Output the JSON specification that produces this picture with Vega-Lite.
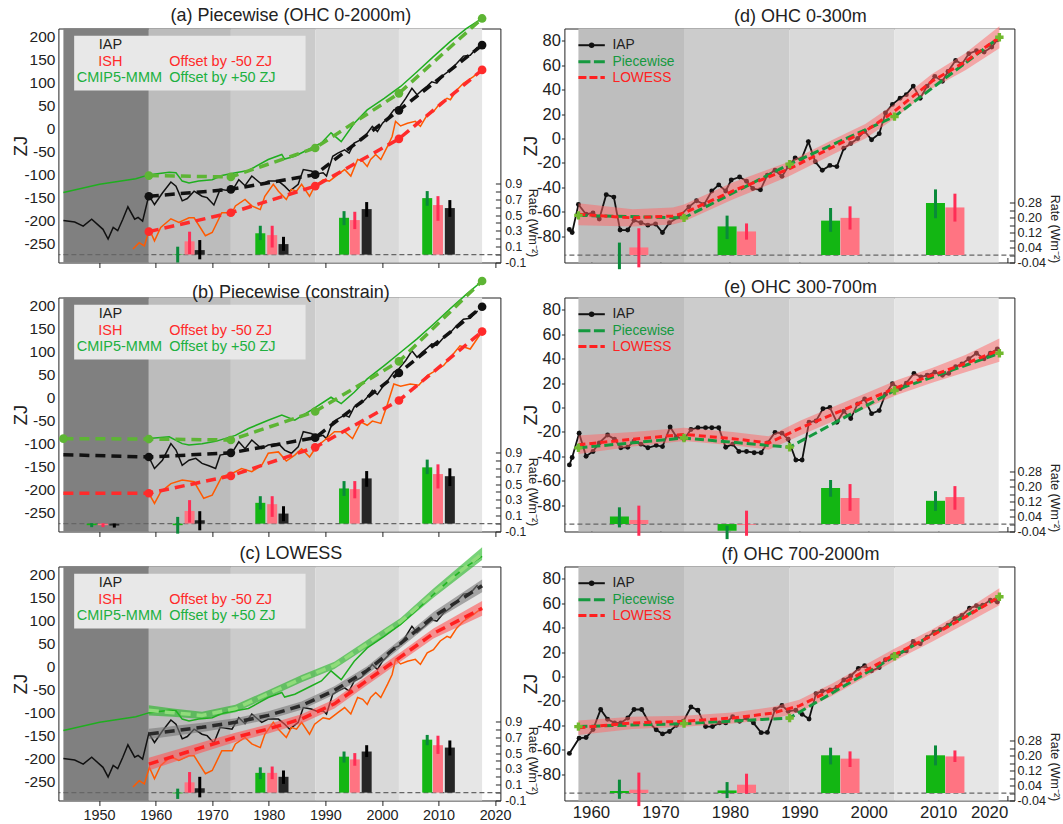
{
"$schema": "https://vega.github.io/schema/vega-lite/v6.json",
"padding": {"left": 10.4, "top": 6.5, "right": 0, "bottom": 0},
"autosize": {"type": "pad"},
"config": {
 "font": "Liberation Sans",
 "view": {"stroke": "#222", "strokeWidth": 1},
 "axis": {"grid": false, "domain": false, "labelColor": "#222", "titleColor": "#222", "tickColor": "#222", "titleFontWeight": "normal", "labelFont": "Liberation Sans", "titleFont": "Liberation Sans"},
 "title": {"fontSize": 18, "fontWeight": "normal", "color": "#222", "font": "Liberation Sans", "frame": "group"}
},
"datasets": {
 "bands": [
  {"p":"L","x1":1943.7,"x2":1958.8,"k":"k0"},{"p":"L","x1":1958.8,"x2":1973.3,"k":"k1"},{"p":"L","x1":1973.3,"x2":1988.2,"k":"k2"},{"p":"L","x1":1988.2,"x2":2003.0,"k":"k3"},{"p":"L","x1":2003.0,"x2":2017.7,"k":"k4"},
  {"p":"R","x1":1958.2,"x2":1973.4,"k":"k1"},{"p":"R","x1":1973.4,"x2":1988.6,"k":"k2"},{"p":"R","x1":1988.6,"x2":2003.7,"k":"k3"},{"p":"R","x1":2003.7,"x2":2018.7,"k":"k4"}
 ],
 "thin": [
  {"p":"a","s":"IAP","t":1943.7,"v":-200},{"p":"a","s":"IAP","t":1945.7,"v":-203},{"p":"a","s":"IAP","t":1947.2,"v":-212},{"p":"a","s":"IAP","t":1948.7,"v":-197},{"p":"a","s":"IAP","t":1950.7,"v":-219},{"p":"a","s":"IAP","t":1951.6,"v":-240},{"p":"a","s":"IAP","t":1952.5,"v":-215},{"p":"a","s":"IAP","t":1953.3,"v":-222},{"p":"a","s":"IAP","t":1954.2,"v":-197},{"p":"a","s":"IAP","t":1955.1,"v":-170},{"p":"a","s":"IAP","t":1956.3,"v":-197},{"p":"a","s":"IAP","t":1956.9,"v":-193},{"p":"a","s":"IAP","t":1957.7,"v":-201},{"p":"a","s":"IAP","t":1958.8,"v":-145},{"p":"a","s":"IAP","t":1959.8,"v":-165},{"p":"a","s":"IAP","t":1961.2,"v":-140},{"p":"a","s":"IAP","t":1962.7,"v":-116},{"p":"a","s":"IAP","t":1963.6,"v":-125},{"p":"a","s":"IAP","t":1964.7,"v":-157},{"p":"a","s":"IAP","t":1965.6,"v":-152},{"p":"a","s":"IAP","t":1966.8,"v":-136},{"p":"a","s":"IAP","t":1968.2,"v":-147},{"p":"a","s":"IAP","t":1969.1,"v":-150},{"p":"a","s":"IAP","t":1970.3,"v":-166},{"p":"a","s":"IAP","t":1971.4,"v":-132},{"p":"a","s":"IAP","t":1973.5,"v":-136},{"p":"a","s":"IAP","t":1974.7,"v":-111},{"p":"a","s":"IAP","t":1975.8,"v":-124},{"p":"a","s":"IAP","t":1977.0,"v":-103},{"p":"a","s":"IAP","t":1978.75,"v":-121},{"p":"a","s":"IAP","t":1979.9,"v":-114},{"p":"a","s":"IAP","t":1981.7,"v":-114},{"p":"a","s":"IAP","t":1982.8,"v":-125},{"p":"a","s":"IAP","t":1983.7,"v":-136},{"p":"a","s":"IAP","t":1985.2,"v":-121},{"p":"a","s":"IAP","t":1986.1,"v":-89},{"p":"a","s":"IAP","t":1987.5,"v":-92},{"p":"a","s":"IAP","t":1988.7,"v":-98},{"p":"a","s":"IAP","t":1989.6,"v":-96},{"p":"a","s":"IAP","t":1990.2,"v":-103},{"p":"a","s":"IAP","t":1991.3,"v":-60},{"p":"a","s":"IAP","t":1992.2,"v":-53},{"p":"a","s":"IAP","t":1993.4,"v":-46},{"p":"a","s":"IAP","t":1994.2,"v":-53},{"p":"a","s":"IAP","t":1995.1,"v":-31},{"p":"a","s":"IAP","t":1996.3,"v":-24},{"p":"a","s":"IAP","t":1997.2,"v":-13},{"p":"a","s":"IAP","t":1998.3,"v":5},{"p":"a","s":"IAP","t":1999.2,"v":-6},{"p":"a","s":"IAP","t":2000.1,"v":12},{"p":"a","s":"IAP","t":2001.0,"v":23},{"p":"a","s":"IAP","t":2002.1,"v":41},{"p":"a","s":"IAP","t":2003.0,"v":45},{"p":"a","s":"IAP","t":2004.2,"v":66},{"p":"a","s":"IAP","t":2005.3,"v":88},{"p":"a","s":"IAP","t":2006.2,"v":74},{"p":"a","s":"IAP","t":2007.1,"v":84},{"p":"a","s":"IAP","t":2008.0,"v":93},{"p":"a","s":"IAP","t":2008.8,"v":102},{"p":"a","s":"IAP","t":2009.7,"v":99},{"p":"a","s":"IAP","t":2010.9,"v":117},{"p":"a","s":"IAP","t":2012.1,"v":128},{"p":"a","s":"IAP","t":2013.2,"v":142},{"p":"a","s":"IAP","t":2014.4,"v":158},{"p":"a","s":"IAP","t":2015.6,"v":160},{"p":"a","s":"IAP","t":2016.9,"v":178},
  {"p":"a","s":"ISH","t":1956.0,"v":-262},{"p":"a","s":"ISH","t":1957.1,"v":-248},{"p":"a","s":"ISH","t":1958.0,"v":-255},{"p":"a","s":"ISH","t":1958.9,"v":-219},{"p":"a","s":"ISH","t":1959.8,"v":-244},{"p":"a","s":"ISH","t":1960.9,"v":-215},{"p":"a","s":"ISH","t":1962.7,"v":-196},{"p":"a","s":"ISH","t":1964.1,"v":-204},{"p":"a","s":"ISH","t":1965.9,"v":-194},{"p":"a","s":"ISH","t":1966.8,"v":-194},{"p":"a","s":"ISH","t":1968.8,"v":-233},{"p":"a","s":"ISH","t":1970.0,"v":-226},{"p":"a","s":"ISH","t":1971.7,"v":-183},{"p":"a","s":"ISH","t":1973.5,"v":-183},{"p":"a","s":"ISH","t":1974.1,"v":-168},{"p":"a","s":"ISH","t":1975.8,"v":-154},{"p":"a","s":"ISH","t":1977.0,"v":-168},{"p":"a","s":"ISH","t":1978.5,"v":-176},{"p":"a","s":"ISH","t":1979.3,"v":-147},{"p":"a","s":"ISH","t":1980.8,"v":-121},{"p":"a","s":"ISH","t":1981.7,"v":-136},{"p":"a","s":"ISH","t":1983.1,"v":-154},{"p":"a","s":"ISH","t":1984.0,"v":-132},{"p":"a","s":"ISH","t":1984.9,"v":-136},{"p":"a","s":"ISH","t":1985.8,"v":-121},{"p":"a","s":"ISH","t":1987.2,"v":-147},{"p":"a","s":"ISH","t":1988.1,"v":-125},{"p":"a","s":"ISH","t":1989.6,"v":-111},{"p":"a","s":"ISH","t":1990.7,"v":-114},{"p":"a","s":"ISH","t":1992.2,"v":-100},{"p":"a","s":"ISH","t":1993.4,"v":-89},{"p":"a","s":"ISH","t":1994.5,"v":-103},{"p":"a","s":"ISH","t":1995.7,"v":-67},{"p":"a","s":"ISH","t":1996.6,"v":-71},{"p":"a","s":"ISH","t":1997.4,"v":-82},{"p":"a","s":"ISH","t":1998.0,"v":-67},{"p":"a","s":"ISH","t":1998.9,"v":-56},{"p":"a","s":"ISH","t":1999.8,"v":-67},{"p":"a","s":"ISH","t":2001.0,"v":-38},{"p":"a","s":"ISH","t":2001.8,"v":-17},{"p":"a","s":"ISH","t":2002.4,"v":16},{"p":"a","s":"ISH","t":2003.3,"v":6},{"p":"a","s":"ISH","t":2004.5,"v":12},{"p":"a","s":"ISH","t":2005.9,"v":16},{"p":"a","s":"ISH","t":2006.8,"v":5},{"p":"a","s":"ISH","t":2008.0,"v":30},{"p":"a","s":"ISH","t":2009.1,"v":37},{"p":"a","s":"ISH","t":2010.3,"v":56},{"p":"a","s":"ISH","t":2011.5,"v":66},{"p":"a","s":"ISH","t":2012.1,"v":63},{"p":"a","s":"ISH","t":2013.2,"v":84},{"p":"a","s":"ISH","t":2014.4,"v":99},{"p":"a","s":"ISH","t":2016.1,"v":113},{"p":"a","s":"ISH","t":2017.7,"v":128},
  {"p":"a","s":"CMIP5","t":1943.7,"v":-139},{"p":"a","s":"CMIP5","t":1950.1,"v":-121},{"p":"a","s":"CMIP5","t":1956.5,"v":-109},{"p":"a","s":"CMIP5","t":1958.9,"v":-100},{"p":"a","s":"CMIP5","t":1962.4,"v":-95},{"p":"a","s":"CMIP5","t":1963.6,"v":-96},{"p":"a","s":"CMIP5","t":1964.7,"v":-114},{"p":"a","s":"CMIP5","t":1965.9,"v":-118},{"p":"a","s":"CMIP5","t":1967.6,"v":-114},{"p":"a","s":"CMIP5","t":1970.0,"v":-111},{"p":"a","s":"CMIP5","t":1971.7,"v":-102},{"p":"a","s":"CMIP5","t":1974.1,"v":-96},{"p":"a","s":"CMIP5","t":1976.4,"v":-91},{"p":"a","s":"CMIP5","t":1979.9,"v":-67},{"p":"a","s":"CMIP5","t":1982.3,"v":-56},{"p":"a","s":"CMIP5","t":1982.8,"v":-66},{"p":"a","s":"CMIP5","t":1984.6,"v":-60},{"p":"a","s":"CMIP5","t":1987.5,"v":-42},{"p":"a","s":"CMIP5","t":1989.3,"v":-31},{"p":"a","s":"CMIP5","t":1991.0,"v":-9},{"p":"a","s":"CMIP5","t":1992.8,"v":-28},{"p":"a","s":"CMIP5","t":1995.1,"v":12},{"p":"a","s":"CMIP5","t":1997.4,"v":41},{"p":"a","s":"CMIP5","t":2000.4,"v":66},{"p":"a","s":"CMIP5","t":2003.3,"v":92},{"p":"a","s":"CMIP5","t":2006.2,"v":124},{"p":"a","s":"CMIP5","t":2009.1,"v":157},{"p":"a","s":"CMIP5","t":2012.0,"v":189},{"p":"a","s":"CMIP5","t":2014.9,"v":218},{"p":"a","s":"CMIP5","t":2017.7,"v":240},
  {"p":"b","s":"IAP","t":1958.8,"v":-129},{"p":"b","s":"IAP","t":1959.8,"v":-154},{"p":"b","s":"IAP","t":1961.2,"v":-136},{"p":"b","s":"IAP","t":1962.7,"v":-100},{"p":"b","s":"IAP","t":1963.6,"v":-114},{"p":"b","s":"IAP","t":1964.7,"v":-147},{"p":"b","s":"IAP","t":1965.9,"v":-136},{"p":"b","s":"IAP","t":1967.1,"v":-132},{"p":"b","s":"IAP","t":1968.2,"v":-143},{"p":"b","s":"IAP","t":1969.4,"v":-148},{"p":"b","s":"IAP","t":1970.6,"v":-154},{"p":"b","s":"IAP","t":1971.4,"v":-125},{"p":"b","s":"IAP","t":1973.5,"v":-120},{"p":"b","s":"IAP","t":1974.7,"v":-96},{"p":"b","s":"IAP","t":1975.8,"v":-111},{"p":"b","s":"IAP","t":1977.0,"v":-92},{"p":"b","s":"IAP","t":1978.75,"v":-111},{"p":"b","s":"IAP","t":1979.9,"v":-103},{"p":"b","s":"IAP","t":1981.7,"v":-100},{"p":"b","s":"IAP","t":1982.8,"v":-114},{"p":"b","s":"IAP","t":1984.0,"v":-121},{"p":"b","s":"IAP","t":1985.2,"v":-107},{"p":"b","s":"IAP","t":1986.1,"v":-74},{"p":"b","s":"IAP","t":1987.5,"v":-78},{"p":"b","s":"IAP","t":1988.7,"v":-85},{"p":"b","s":"IAP","t":1989.6,"v":-82},{"p":"b","s":"IAP","t":1990.2,"v":-89},{"p":"b","s":"IAP","t":1991.3,"v":-53},{"p":"b","s":"IAP","t":1992.2,"v":-46},{"p":"b","s":"IAP","t":1993.4,"v":-38},{"p":"b","s":"IAP","t":1994.2,"v":-42},{"p":"b","s":"IAP","t":1995.1,"v":-20},{"p":"b","s":"IAP","t":1996.3,"v":-13},{"p":"b","s":"IAP","t":1997.2,"v":-2},{"p":"b","s":"IAP","t":1998.3,"v":16},{"p":"b","s":"IAP","t":1999.2,"v":7},{"p":"b","s":"IAP","t":2000.1,"v":23},{"p":"b","s":"IAP","t":2001.0,"v":37},{"p":"b","s":"IAP","t":2002.1,"v":56},{"p":"b","s":"IAP","t":2003.0,"v":63},{"p":"b","s":"IAP","t":2004.2,"v":81},{"p":"b","s":"IAP","t":2005.3,"v":102},{"p":"b","s":"IAP","t":2006.2,"v":88},{"p":"b","s":"IAP","t":2007.1,"v":99},{"p":"b","s":"IAP","t":2008.0,"v":108},{"p":"b","s":"IAP","t":2008.8,"v":117},{"p":"b","s":"IAP","t":2009.7,"v":114},{"p":"b","s":"IAP","t":2010.9,"v":131},{"p":"b","s":"IAP","t":2012.1,"v":142},{"p":"b","s":"IAP","t":2013.2,"v":157},{"p":"b","s":"IAP","t":2014.4,"v":171},{"p":"b","s":"IAP","t":2015.6,"v":173},{"p":"b","s":"IAP","t":2016.9,"v":189},
  {"p":"b","s":"ISH","t":1958.8,"v":-208},{"p":"b","s":"ISH","t":1959.8,"v":-230},{"p":"b","s":"ISH","t":1960.9,"v":-205},{"p":"b","s":"ISH","t":1962.7,"v":-187},{"p":"b","s":"ISH","t":1964.7,"v":-179},{"p":"b","s":"ISH","t":1966.8,"v":-183},{"p":"b","s":"ISH","t":1968.5,"v":-219},{"p":"b","s":"ISH","t":1970.0,"v":-212},{"p":"b","s":"ISH","t":1971.7,"v":-172},{"p":"b","s":"ISH","t":1973.5,"v":-165},{"p":"b","s":"ISH","t":1975.2,"v":-154},{"p":"b","s":"ISH","t":1977.0,"v":-161},{"p":"b","s":"ISH","t":1978.75,"v":-147},{"p":"b","s":"ISH","t":1979.9,"v":-121},{"p":"b","s":"ISH","t":1981.7,"v":-118},{"p":"b","s":"ISH","t":1983.1,"v":-138},{"p":"b","s":"ISH","t":1984.6,"v":-125},{"p":"b","s":"ISH","t":1985.8,"v":-111},{"p":"b","s":"ISH","t":1987.2,"v":-129},{"p":"b","s":"ISH","t":1988.4,"v":-107},{"p":"b","s":"ISH","t":1989.9,"v":-92},{"p":"b","s":"ISH","t":1991.6,"v":-74},{"p":"b","s":"ISH","t":1993.4,"v":-74},{"p":"b","s":"ISH","t":1994.8,"v":-89},{"p":"b","s":"ISH","t":1996.3,"v":-53},{"p":"b","s":"ISH","t":1997.4,"v":-60},{"p":"b","s":"ISH","t":1998.3,"v":-51},{"p":"b","s":"ISH","t":1999.8,"v":-56},{"p":"b","s":"ISH","t":2000.9,"v":-17},{"p":"b","s":"ISH","t":2002.1,"v":30},{"p":"b","s":"ISH","t":2003.3,"v":25},{"p":"b","s":"ISH","t":2005.0,"v":30},{"p":"b","s":"ISH","t":2006.5,"v":27},{"p":"b","s":"ISH","t":2008.0,"v":48},{"p":"b","s":"ISH","t":2009.1,"v":56},{"p":"b","s":"ISH","t":2010.9,"v":70},{"p":"b","s":"ISH","t":2012.6,"v":95},{"p":"b","s":"ISH","t":2013.8,"v":113},{"p":"b","s":"ISH","t":2015.6,"v":106},{"p":"b","s":"ISH","t":2017.7,"v":144},
  {"p":"b","s":"CMIP5","t":1958.8,"v":-89},{"p":"b","s":"CMIP5","t":1962.4,"v":-85},{"p":"b","s":"CMIP5","t":1964.7,"v":-100},{"p":"b","s":"CMIP5","t":1965.9,"v":-103},{"p":"b","s":"CMIP5","t":1968.2,"v":-100},{"p":"b","s":"CMIP5","t":1970.6,"v":-95},{"p":"b","s":"CMIP5","t":1974.1,"v":-82},{"p":"b","s":"CMIP5","t":1976.4,"v":-67},{"p":"b","s":"CMIP5","t":1979.9,"v":-49},{"p":"b","s":"CMIP5","t":1982.3,"v":-38},{"p":"b","s":"CMIP5","t":1984.6,"v":-49},{"p":"b","s":"CMIP5","t":1987.5,"v":-27},{"p":"b","s":"CMIP5","t":1991.0,"v":1},{"p":"b","s":"CMIP5","t":1992.8,"v":-13},{"p":"b","s":"CMIP5","t":1995.1,"v":12},{"p":"b","s":"CMIP5","t":1997.4,"v":41},{"p":"b","s":"CMIP5","t":2000.4,"v":70},{"p":"b","s":"CMIP5","t":2003.3,"v":99},{"p":"b","s":"CMIP5","t":2006.2,"v":128},{"p":"b","s":"CMIP5","t":2009.1,"v":160},{"p":"b","s":"CMIP5","t":2012.0,"v":193},{"p":"b","s":"CMIP5","t":2014.9,"v":225},{"p":"b","s":"CMIP5","t":2017.7,"v":254}
 ],
 "pw": [
  {"p":"a","s":"CMIP5","t":1958.8,"v":-102},{"p":"a","s":"CMIP5","t":1973.3,"v":-105},{"p":"a","s":"CMIP5","t":1988.2,"v":-42},{"p":"a","s":"CMIP5","t":2003.0,"v":77},{"p":"a","s":"CMIP5","t":2017.7,"v":240},
  {"p":"a","s":"IAP","t":1958.8,"v":-147},{"p":"a","s":"IAP","t":1973.3,"v":-132},{"p":"a","s":"IAP","t":1988.2,"v":-100},{"p":"a","s":"IAP","t":2003.0,"v":40},{"p":"a","s":"IAP","t":2017.7,"v":182},
  {"p":"a","s":"ISH","t":1958.8,"v":-224},{"p":"a","s":"ISH","t":1973.3,"v":-183},{"p":"a","s":"ISH","t":1988.2,"v":-125},{"p":"a","s":"ISH","t":2003.0,"v":-22},{"p":"a","s":"ISH","t":2017.7,"v":128},
  {"p":"b","s":"CMIP5","t":1943.7,"v":-89},{"p":"b","s":"CMIP5","t":1958.8,"v":-90},{"p":"b","s":"CMIP5","t":1973.3,"v":-92},{"p":"b","s":"CMIP5","t":1988.2,"v":-30},{"p":"b","s":"CMIP5","t":2003.0,"v":79},{"p":"b","s":"CMIP5","t":2017.7,"v":254},
  {"p":"b","s":"IAP","t":1943.7,"v":-124},{"p":"b","s":"IAP","t":1958.8,"v":-129},{"p":"b","s":"IAP","t":1973.3,"v":-120},{"p":"b","s":"IAP","t":1988.2,"v":-87},{"p":"b","s":"IAP","t":2003.0,"v":54},{"p":"b","s":"IAP","t":2017.7,"v":198},
  {"p":"b","s":"ISH","t":1943.7,"v":-208},{"p":"b","s":"ISH","t":1958.8,"v":-208},{"p":"b","s":"ISH","t":1973.3,"v":-170},{"p":"b","s":"ISH","t":1988.2,"v":-108},{"p":"b","s":"ISH","t":2003.0,"v":-6},{"p":"b","s":"ISH","t":2017.7,"v":144},
  {"p":"d","s":"PW","t":1958.2,"v":-63},{"p":"d","s":"PW","t":1973.4,"v":-65},{"p":"d","s":"PW","t":1988.6,"v":-21},{"p":"d","s":"PW","t":2003.7,"v":18},{"p":"d","s":"PW","t":2018.8,"v":83},
  {"p":"e","s":"PW","t":1958.2,"v":-33},{"p":"e","s":"PW","t":1973.4,"v":-25},{"p":"e","s":"PW","t":1988.6,"v":-32.5},{"p":"e","s":"PW","t":2003.7,"v":14},{"p":"e","s":"PW","t":2018.8,"v":44.5},
  {"p":"f","s":"PW","t":1958.2,"v":-41},{"p":"f","s":"PW","t":1973.4,"v":-38.6},{"p":"f","s":"PW","t":1988.6,"v":-34},{"p":"f","s":"PW","t":2003.7,"v":16.6},{"p":"f","s":"PW","t":2018.8,"v":65.4}
 ],
 "lw": [
  {"p":"c","s":"CMIP5","t":1958.8,"v":-95,"lo":-106,"hi":-84},{"p":"c","s":"CMIP5","t":1963.0,"v":-100,"lo":-109,"hi":-91},{"p":"c","s":"CMIP5","t":1968.2,"v":-106,"lo":-114,"hi":-98},{"p":"c","s":"CMIP5","t":1974.1,"v":-91,"lo":-99,"hi":-83},{"p":"c","s":"CMIP5","t":1979.9,"v":-59,"lo":-67,"hi":-51},{"p":"c","s":"CMIP5","t":1985.8,"v":-26,"lo":-34,"hi":-18},{"p":"c","s":"CMIP5","t":1991.6,"v":3,"lo":-5,"hi":11},{"p":"c","s":"CMIP5","t":1997.4,"v":50,"lo":42,"hi":58},{"p":"c","s":"CMIP5","t":2003.3,"v":98,"lo":90,"hi":106},{"p":"c","s":"CMIP5","t":2009.1,"v":160,"lo":150,"hi":170},{"p":"c","s":"CMIP5","t":2017.7,"v":246,"lo":232,"hi":260},
  {"p":"c","s":"IAP","t":1958.8,"v":-146.5,"lo":-158,"hi":-135},{"p":"c","s":"IAP","t":1968.2,"v":-132,"lo":-142,"hi":-122},{"p":"c","s":"IAP","t":1974.1,"v":-121,"lo":-130,"hi":-112},{"p":"c","s":"IAP","t":1979.9,"v":-106,"lo":-115,"hi":-97},{"p":"c","s":"IAP","t":1985.8,"v":-84.5,"lo":-93.5,"hi":-75.5},{"p":"c","s":"IAP","t":1991.6,"v":-51.6,"lo":-60.6,"hi":-42.6},{"p":"c","s":"IAP","t":1997.4,"v":-8,"lo":-17,"hi":1},{"p":"c","s":"IAP","t":2003.3,"v":50.5,"lo":41.5,"hi":59.5},{"p":"c","s":"IAP","t":2009.1,"v":109,"lo":99,"hi":119},{"p":"c","s":"IAP","t":2017.7,"v":176,"lo":162,"hi":190},
  {"p":"c","s":"ISH","t":1958.8,"v":-212,"lo":-226,"hi":-198},{"p":"c","s":"ISH","t":1968.2,"v":-175.6,"lo":-186.6,"hi":-164.6},{"p":"c","s":"ISH","t":1974.1,"v":-153.8,"lo":-163.8,"hi":-143.8},{"p":"c","s":"ISH","t":1979.9,"v":-135.5,"lo":-145.5,"hi":-125.5},{"p":"c","s":"ISH","t":1985.8,"v":-113.6,"lo":-123.6,"hi":-103.6},{"p":"c","s":"ISH","t":1991.6,"v":-80.8,"lo":-90.8,"hi":-70.8},{"p":"c","s":"ISH","t":1997.4,"v":-29.8,"lo":-39.8,"hi":-19.8},{"p":"c","s":"ISH","t":2003.3,"v":21.3,"lo":11.3,"hi":31.3},{"p":"c","s":"ISH","t":2009.1,"v":72.4,"lo":61.4,"hi":83.4},{"p":"c","s":"ISH","t":2017.7,"v":127,"lo":111,"hi":143},
  {"p":"d","s":"LW","t":1958.2,"v":-62,"lo":-71,"hi":-53},{"p":"d","s":"LW","t":1966.0,"v":-65,"lo":-72,"hi":-58},{"p":"d","s":"LW","t":1971.8,"v":-63.5,"lo":-70.5,"hi":-56.5},{"p":"d","s":"LW","t":1973.4,"v":-61,"lo":-68,"hi":-54},{"p":"d","s":"LW","t":1980.4,"v":-43,"lo":-50,"hi":-36},{"p":"d","s":"LW","t":1988.5,"v":-25,"lo":-31,"hi":-19},{"p":"d","s":"LW","t":1994.8,"v":-7,"lo":-13,"hi":-1},{"p":"d","s":"LW","t":1999.5,"v":6,"lo":0,"hi":12},{"p":"d","s":"LW","t":2003.6,"v":22,"lo":16,"hi":28},{"p":"d","s":"LW","t":2009.1,"v":47,"lo":41,"hi":53},{"p":"d","s":"LW","t":2013.9,"v":63,"lo":56,"hi":70},{"p":"d","s":"LW","t":2018.8,"v":83,"lo":74,"hi":92},
  {"p":"e","s":"LW","t":1958.2,"v":-30.5,"lo":-38,"hi":-23},{"p":"e","s":"LW","t":1966.0,"v":-26,"lo":-32,"hi":-20},{"p":"e","s":"LW","t":1973.4,"v":-22,"lo":-27.5,"hi":-16.5},{"p":"e","s":"LW","t":1980.4,"v":-25.5,"lo":-31,"hi":-20},{"p":"e","s":"LW","t":1985.6,"v":-29,"lo":-34.5,"hi":-23.5},{"p":"e","s":"LW","t":1990.2,"v":-16.7,"lo":-22.7,"hi":-10.7},{"p":"e","s":"LW","t":1994.8,"v":-5.5,"lo":-11.5,"hi":0.5},{"p":"e","s":"LW","t":1999.5,"v":5.5,"lo":-0.5,"hi":11.5},{"p":"e","s":"LW","t":2004.2,"v":16.7,"lo":10.7,"hi":22.7},{"p":"e","s":"LW","t":2009.1,"v":26.4,"lo":20.4,"hi":32.4},{"p":"e","s":"LW","t":2013.9,"v":36,"lo":29,"hi":43},{"p":"e","s":"LW","t":2018.8,"v":47,"lo":37.5,"hi":56.5},
  {"p":"f","s":"LW","t":1958.2,"v":-42,"lo":-48,"hi":-36},{"p":"f","s":"LW","t":1966.0,"v":-38,"lo":-43,"hi":-33},{"p":"f","s":"LW","t":1973.4,"v":-36.7,"lo":-41.2,"hi":-32.2},{"p":"f","s":"LW","t":1980.4,"v":-34,"lo":-38.5,"hi":-29.5},{"p":"f","s":"LW","t":1986.1,"v":-30,"lo":-35,"hi":-25},{"p":"f","s":"LW","t":1990.0,"v":-24,"lo":-29,"hi":-19},{"p":"f","s":"LW","t":1994.8,"v":-10.5,"lo":-15.5,"hi":-5.5},{"p":"f","s":"LW","t":1999.5,"v":4.7,"lo":-0.3,"hi":9.7},{"p":"f","s":"LW","t":2003.6,"v":17.6,"lo":12.6,"hi":22.6},{"p":"f","s":"LW","t":2009.1,"v":33.6,"lo":28.6,"hi":38.6},{"p":"f","s":"LW","t":2013.9,"v":48.8,"lo":43.3,"hi":54.3},{"p":"f","s":"LW","t":2018.8,"v":65.4,"lo":58.4,"hi":72.4}
 ],
 "iap": [
  {"p":"d","t":1956.9,"v":-74.5},{"p":"d","t":1957.3,"v":-77},{"p":"d","t":1958.2,"v":-54},{"p":"d","t":1959.3,"v":-62},{"p":"d","t":1960.3,"v":-61},{"p":"d","t":1961.2,"v":-66},{"p":"d","t":1962.2,"v":-46},{"p":"d","t":1963.3,"v":-48},{"p":"d","t":1964.2,"v":-75},{"p":"d","t":1965.3,"v":-75},{"p":"d","t":1966.2,"v":-67},{"p":"d","t":1967.2,"v":-69},{"p":"d","t":1968.2,"v":-71},{"p":"d","t":1969.3,"v":-70},{"p":"d","t":1970.3,"v":-77},{"p":"d","t":1971.3,"v":-69},{"p":"d","t":1972.7,"v":-64},{"p":"d","t":1974.1,"v":-56},{"p":"d","t":1975.2,"v":-51},{"p":"d","t":1976.3,"v":-54},{"p":"d","t":1977.4,"v":-43},{"p":"d","t":1978.4,"v":-38},{"p":"d","t":1979.4,"v":-43},{"p":"d","t":1980.2,"v":-34},{"p":"d","t":1981.4,"v":-31.5},{"p":"d","t":1982.4,"v":-35},{"p":"d","t":1983.3,"v":-41},{"p":"d","t":1984.4,"v":-42},{"p":"d","t":1985.4,"v":-30},{"p":"d","t":1986.5,"v":-26},{"p":"d","t":1987.5,"v":-31},{"p":"d","t":1988.4,"v":-23},{"p":"d","t":1989.4,"v":-16},{"p":"d","t":1990.3,"v":-17},{"p":"d","t":1991.3,"v":-2.5},{"p":"d","t":1992.3,"v":-19},{"p":"d","t":1993.3,"v":-26},{"p":"d","t":1994.4,"v":-22},{"p":"d","t":1995.4,"v":-23},{"p":"d","t":1996.4,"v":-8},{"p":"d","t":1997.4,"v":-4},{"p":"d","t":1998.4,"v":0},{"p":"d","t":1999.4,"v":6},{"p":"d","t":2000.4,"v":-1},{"p":"d","t":2001.5,"v":4},{"p":"d","t":2002.4,"v":21},{"p":"d","t":2003.4,"v":28},{"p":"d","t":2004.5,"v":33},{"p":"d","t":2005.4,"v":36},{"p":"d","t":2006.4,"v":43},{"p":"d","t":2007.4,"v":33},{"p":"d","t":2008.4,"v":43},{"p":"d","t":2009.5,"v":51},{"p":"d","t":2010.6,"v":47},{"p":"d","t":2011.4,"v":55},{"p":"d","t":2012.5,"v":64},{"p":"d","t":2013.4,"v":61},{"p":"d","t":2014.4,"v":69.5},{"p":"d","t":2015.5,"v":72},{"p":"d","t":2016.6,"v":71},{"p":"d","t":2017.7,"v":75},{"p":"d","t":2018.5,"v":81},
  {"p":"e","t":1956.9,"v":-47},{"p":"e","t":1957.3,"v":-41},{"p":"e","t":1958.3,"v":-21},{"p":"e","t":1959.3,"v":-40},{"p":"e","t":1960.3,"v":-36},{"p":"e","t":1961.2,"v":-29},{"p":"e","t":1962.4,"v":-22.5},{"p":"e","t":1963.4,"v":-26},{"p":"e","t":1964.3,"v":-33},{"p":"e","t":1965.3,"v":-32.5},{"p":"e","t":1966.2,"v":-27.5},{"p":"e","t":1967.2,"v":-30},{"p":"e","t":1968.2,"v":-33},{"p":"e","t":1969.4,"v":-31},{"p":"e","t":1970.3,"v":-32},{"p":"e","t":1971.4,"v":-16},{"p":"e","t":1972.3,"v":-24},{"p":"e","t":1973.4,"v":-26},{"p":"e","t":1974.4,"v":-18},{"p":"e","t":1975.4,"v":-16.5},{"p":"e","t":1976.5,"v":-16.5},{"p":"e","t":1977.4,"v":-16.5},{"p":"e","t":1978.4,"v":-16.5},{"p":"e","t":1979.4,"v":-32.5},{"p":"e","t":1980.4,"v":-30},{"p":"e","t":1981.3,"v":-36},{"p":"e","t":1982.4,"v":-36},{"p":"e","t":1983.5,"v":-37},{"p":"e","t":1984.5,"v":-37},{"p":"e","t":1985.4,"v":-29},{"p":"e","t":1986.5,"v":-20.5},{"p":"e","t":1987.5,"v":-21},{"p":"e","t":1988.4,"v":-26},{"p":"e","t":1989.5,"v":-43},{"p":"e","t":1990.4,"v":-43},{"p":"e","t":1991.4,"v":-12},{"p":"e","t":1992.4,"v":-11},{"p":"e","t":1993.4,"v":-1},{"p":"e","t":1994.4,"v":0},{"p":"e","t":1995.4,"v":-12},{"p":"e","t":1996.4,"v":-3},{"p":"e","t":1997.4,"v":-9},{"p":"e","t":1998.4,"v":3},{"p":"e","t":1999.4,"v":7},{"p":"e","t":2000.4,"v":-5},{"p":"e","t":2001.5,"v":-2.5},{"p":"e","t":2002.4,"v":11},{"p":"e","t":2003.4,"v":19.6},{"p":"e","t":2004.5,"v":15.5},{"p":"e","t":2005.4,"v":20},{"p":"e","t":2006.5,"v":28},{"p":"e","t":2007.5,"v":25},{"p":"e","t":2008.4,"v":26.5},{"p":"e","t":2009.5,"v":29},{"p":"e","t":2010.6,"v":26.5},{"p":"e","t":2011.5,"v":28},{"p":"e","t":2012.5,"v":33.5},{"p":"e","t":2013.4,"v":35.7},{"p":"e","t":2014.4,"v":40},{"p":"e","t":2015.5,"v":44.5},{"p":"e","t":2016.6,"v":40},{"p":"e","t":2017.5,"v":44.5},{"p":"e","t":2018.5,"v":48},
  {"p":"f","t":1956.9,"v":-63},{"p":"f","t":1958.3,"v":-50.5},{"p":"f","t":1959.3,"v":-50},{"p":"f","t":1960.3,"v":-43.5},{"p":"f","t":1961.4,"v":-27},{"p":"f","t":1962.4,"v":-35},{"p":"f","t":1963.4,"v":-38},{"p":"f","t":1964.3,"v":-38},{"p":"f","t":1965.3,"v":-34},{"p":"f","t":1966.2,"v":-27},{"p":"f","t":1967.3,"v":-27},{"p":"f","t":1968.4,"v":-38},{"p":"f","t":1969.4,"v":-43.6},{"p":"f","t":1970.3,"v":-47},{"p":"f","t":1971.3,"v":-45},{"p":"f","t":1972.3,"v":-40},{"p":"f","t":1973.3,"v":-36.7},{"p":"f","t":1974.4,"v":-25},{"p":"f","t":1975.4,"v":-27.6},{"p":"f","t":1976.5,"v":-41},{"p":"f","t":1977.5,"v":-41},{"p":"f","t":1978.5,"v":-38},{"p":"f","t":1979.4,"v":-38},{"p":"f","t":1980.4,"v":-33},{"p":"f","t":1981.4,"v":-36.7},{"p":"f","t":1982.4,"v":-34},{"p":"f","t":1983.4,"v":-38},{"p":"f","t":1984.5,"v":-46},{"p":"f","t":1985.4,"v":-45.8},{"p":"f","t":1986.5,"v":-27},{"p":"f","t":1987.5,"v":-23.7},{"p":"f","t":1988.4,"v":-28.4},{"p":"f","t":1989.5,"v":-27.6},{"p":"f","t":1990.4,"v":-31},{"p":"f","t":1991.4,"v":-34.8},{"p":"f","t":1992.4,"v":-14},{"p":"f","t":1993.3,"v":-12},{"p":"f","t":1994.4,"v":-11},{"p":"f","t":1995.4,"v":-9},{"p":"f","t":1996.4,"v":-2.8},{"p":"f","t":1997.4,"v":0.5},{"p":"f","t":1998.5,"v":6.6},{"p":"f","t":1999.4,"v":8.8},{"p":"f","t":2000.4,"v":4.7},{"p":"f","t":2001.5,"v":7.4},{"p":"f","t":2002.4,"v":13.8},{"p":"f","t":2003.4,"v":17},{"p":"f","t":2004.3,"v":18.5},{"p":"f","t":2005.4,"v":21},{"p":"f","t":2006.4,"v":28.7},{"p":"f","t":2007.4,"v":26.8},{"p":"f","t":2008.4,"v":32.3},{"p":"f","t":2009.4,"v":36.4},{"p":"f","t":2010.3,"v":38.6},{"p":"f","t":2011.4,"v":42},{"p":"f","t":2012.4,"v":47.4},{"p":"f","t":2013.4,"v":50},{"p":"f","t":2014.5,"v":56},{"p":"f","t":2015.5,"v":58},{"p":"f","t":2016.4,"v":58.5},{"p":"f","t":2017.5,"v":62.6},{"p":"f","t":2018.5,"v":61}
 ],
 "bars": [
  {"p":"a","s":"CMIP5","t":1963.9,"r":-0.005,"lo":-0.1,"hi":0.1},{"p":"a","s":"ISH","t":1966.0,"r":0.168,"lo":0.006,"hi":0.29},{"p":"a","s":"IAP","t":1967.8,"r":0.057,"lo":-0.06,"hi":0.184},
  {"p":"a","s":"CMIP5","t":1978.5,"r":0.27,"lo":0.184,"hi":0.365},{"p":"a","s":"ISH","t":1980.6,"r":0.247,"lo":0.09,"hi":0.365},{"p":"a","s":"IAP","t":1982.6,"r":0.133,"lo":0.048,"hi":0.225},
  {"p":"a","s":"CMIP5","t":1993.3,"r":0.466,"lo":0.373,"hi":0.55},{"p":"a","s":"ISH","t":1995.2,"r":0.437,"lo":0.323,"hi":0.542},{"p":"a","s":"IAP","t":1997.3,"r":0.576,"lo":0.478,"hi":0.665},
  {"p":"a","s":"CMIP5","t":2008.0,"r":0.715,"lo":0.618,"hi":0.804},{"p":"a","s":"ISH","t":2009.9,"r":0.627,"lo":0.428,"hi":0.74},{"p":"a","s":"IAP","t":2012.0,"r":0.589,"lo":0.478,"hi":0.69},
  {"p":"b","s":"CMIP5","t":1948.7,"r":-0.02,"lo":-0.045,"hi":0.005},{"p":"b","s":"ISH","t":1950.7,"r":-0.02,"lo":-0.045,"hi":0.005},{"p":"b","s":"IAP","t":1952.7,"r":-0.025,"lo":-0.05,"hi":0.0},
  {"p":"b","s":"CMIP5","t":1963.9,"r":-0.02,"lo":-0.127,"hi":0.085},{"p":"b","s":"ISH","t":1966.0,"r":0.16,"lo":0.013,"hi":0.297},{"p":"b","s":"IAP","t":1967.8,"r":0.042,"lo":-0.085,"hi":0.157},
  {"p":"b","s":"CMIP5","t":1978.5,"r":0.263,"lo":0.178,"hi":0.347},{"p":"b","s":"ISH","t":1980.6,"r":0.246,"lo":0.085,"hi":0.347},{"p":"b","s":"IAP","t":1982.6,"r":0.127,"lo":0.03,"hi":0.22},
  {"p":"b","s":"CMIP5","t":1993.3,"r":0.445,"lo":0.35,"hi":0.538},{"p":"b","s":"ISH","t":1995.2,"r":0.436,"lo":0.32,"hi":0.538},{"p":"b","s":"IAP","t":1997.3,"r":0.572,"lo":0.466,"hi":0.665},
  {"p":"b","s":"CMIP5","t":2008.0,"r":0.712,"lo":0.627,"hi":0.81},{"p":"b","s":"ISH","t":2009.9,"r":0.627,"lo":0.445,"hi":0.75},{"p":"b","s":"IAP","t":2012.0,"r":0.6,"lo":0.475,"hi":0.7},
  {"p":"c","s":"CMIP5","t":1963.9,"r":-0.01,"lo":-0.08,"hi":0.05},{"p":"c","s":"ISH","t":1966.0,"r":0.13,"lo":0.0,"hi":0.26},{"p":"c","s":"IAP","t":1967.8,"r":0.055,"lo":-0.06,"hi":0.2},
  {"p":"c","s":"CMIP5","t":1978.5,"r":0.25,"lo":0.17,"hi":0.32},{"p":"c","s":"ISH","t":1980.6,"r":0.25,"lo":0.17,"hi":0.33},{"p":"c","s":"IAP","t":1982.6,"r":0.2,"lo":0.11,"hi":0.28},
  {"p":"c","s":"CMIP5","t":1993.3,"r":0.455,"lo":0.38,"hi":0.52},{"p":"c","s":"ISH","t":1995.2,"r":0.42,"lo":0.34,"hi":0.5},{"p":"c","s":"IAP","t":1997.3,"r":0.52,"lo":0.45,"hi":0.6},
  {"p":"c","s":"CMIP5","t":2008.0,"r":0.67,"lo":0.6,"hi":0.73},{"p":"c","s":"ISH","t":2009.9,"r":0.6,"lo":0.49,"hi":0.72},{"p":"c","s":"IAP","t":2012.0,"r":0.57,"lo":0.47,"hi":0.66},
  {"p":"d","s":"PW","t":1964.1,"r":0.0,"lo":-0.076,"hi":0.067},{"p":"d","s":"LW","t":1966.9,"r":0.041,"lo":-0.066,"hi":0.144},
  {"p":"d","s":"PW","t":1979.6,"r":0.154,"lo":0.086,"hi":0.212},{"p":"d","s":"LW","t":1982.4,"r":0.127,"lo":0.083,"hi":0.17},
  {"p":"d","s":"PW","t":1994.5,"r":0.185,"lo":0.125,"hi":0.253},{"p":"d","s":"LW","t":1997.3,"r":0.2,"lo":0.137,"hi":0.262},
  {"p":"d","s":"PW","t":2009.6,"r":0.28,"lo":0.198,"hi":0.353},{"p":"d","s":"LW","t":2012.4,"r":0.256,"lo":0.18,"hi":0.33},
  {"p":"e","s":"PW","t":1964.1,"r":0.041,"lo":-0.018,"hi":0.09},{"p":"e","s":"LW","t":1966.9,"r":0.022,"lo":-0.063,"hi":0.099},
  {"p":"e","s":"PW","t":1979.6,"r":-0.036,"lo":-0.081,"hi":-0.009},{"p":"e","s":"LW","t":1982.4,"r":-0.004,"lo":-0.063,"hi":0.072},
  {"p":"e","s":"PW","t":1994.5,"r":0.194,"lo":0.147,"hi":0.237},{"p":"e","s":"LW","t":1997.3,"r":0.14,"lo":0.071,"hi":0.215},
  {"p":"e","s":"PW","t":2009.6,"r":0.125,"lo":0.071,"hi":0.177},{"p":"e","s":"LW","t":2012.4,"r":0.145,"lo":0.077,"hi":0.204},
  {"p":"f","s":"PW","t":1964.1,"r":0.011,"lo":-0.031,"hi":0.072},{"p":"f","s":"LW","t":1966.9,"r":0.018,"lo":-0.07,"hi":0.11},
  {"p":"f","s":"PW","t":1979.6,"r":0.014,"lo":-0.027,"hi":0.059},{"p":"f","s":"LW","t":1982.4,"r":0.045,"lo":-0.004,"hi":0.104},
  {"p":"f","s":"PW","t":1994.5,"r":0.203,"lo":0.154,"hi":0.244},{"p":"f","s":"LW","t":1997.3,"r":0.185,"lo":0.14,"hi":0.224},
  {"p":"f","s":"PW","t":2009.6,"r":0.203,"lo":0.149,"hi":0.256},{"p":"f","s":"LW","t":2012.4,"r":0.197,"lo":0.167,"hi":0.229}
 ]
},
"columns": 2,
"spacing": {"row": 35, "column": 64},
"bounds": "flush",
"concat": [
 {
  "width": 442, "height": 234,
  "title": {"text": "(a) Piecewise (OHC 0-2000m)", "dx": 11.5, "offset": -13.9},
  "resolve": {"scale": {"y": "independent", "color": "independent"}},
  "layer": [
   {"data": {"name": "bands"}, "transform": [{"filter": "datum.p=='L'"}], "mark": "rect",
    "encoding": {"x": {"field": "x1", "type": "quantitative", "scale": {"domain": [1943.7, 2020.05], "nice": false, "zero": false}, "axis": {"values": [1950,1960,1970,1980,1990,2000,2010,2020], "format": "d", "labels": false, "tickSize": 5, "title": null}}, "x2": {"field": "x2"}, "color": {"field": "k", "type": "nominal", "scale": {"domain": ["k0","k1","k2","k3","k4"], "range": ["#808080","#bcbcbc","#cbcbcb","#d9d9d9","#e6e6e6"]}, "legend": null}}},
   {"data": {"values": [{}]}, "mark": {"type": "rect", "color": "#e8e8e8"},
    "encoding": {"x": {"datum": 1945.6, "type": "quantitative"}, "x2": {"datum": 1986.5}, "y": {"datum": 202.2, "type": "quantitative", "scale": {"domain": [-291.2, 218.1], "nice": false, "zero": false}, "axis": {"orient": "left", "values": [-250,-200,-150,-100,-50,0,50,100,150,200], "labelExpr": "replace(datum.label, '−', '-')", "tickSize": 0, "labelPadding": 3.5, "labelFontSize": 15.5, "title": "ZJ", "titleFontSize": 18.3, "titleX": -37, "titleBaseline": "middle"}}, "y2": {"datum": 83}}},
   {"data": {"name": "thin"}, "transform": [{"filter": "datum.p=='a'"}], "mark": {"type": "line", "strokeWidth": 1.5},
    "encoding": {"x": {"field": "t", "type": "quantitative"}, "y": {"field": "v", "type": "quantitative", "scale": {"domain": [-291.2, 218.1], "nice": false, "zero": false}, "axis": null}, "color": {"field": "s", "type": "nominal", "scale": {"domain": ["IAP","ISH","CMIP5"], "range": ["#111111","#ff5a00","#1fae1f"]}, "legend": null}}},
   {"data": {"name": "pw"}, "transform": [{"filter": "datum.p=='a'"}], "mark": {"type": "line", "strokeWidth": 3.5, "strokeDash": [10, 6]},
    "encoding": {"x": {"field": "t", "type": "quantitative"}, "y": {"field": "v", "type": "quantitative", "scale": {"domain": [-291.2, 218.1], "nice": false, "zero": false}, "axis": null}, "color": {"field": "s", "type": "nominal", "scale": {"domain": ["IAP","ISH","CMIP5"], "range": ["#111111","#ff2b2b","#5db534"]}, "legend": null}}},
   {"data": {"name": "pw"}, "transform": [{"filter": "datum.p=='a'"}], "mark": {"type": "point", "filled": true, "size": 75, "opacity": 1},
    "encoding": {"x": {"field": "t", "type": "quantitative"}, "y": {"field": "v", "type": "quantitative", "scale": {"domain": [-291.2, 218.1], "nice": false, "zero": false}, "axis": null}, "color": {"field": "s", "type": "nominal", "scale": {"domain": ["IAP","ISH","CMIP5"], "range": ["#111111","#ff2b2b","#5db534"]}, "legend": null}}},
   {"data": {"values": [{}]}, "mark": {"type": "text", "text": "IAP", "fontSize": 14.5, "color": "#231f20", "align": "center", "baseline": "middle"}, "encoding": {"x": {"datum": 1952.0, "type": "quantitative"}, "y": {"datum": 182, "type": "quantitative", "scale": {"domain": [-291.2, 218.1], "nice": false, "zero": false}, "axis": null}}},
   {"data": {"values": [{}]}, "mark": {"type": "text", "text": "ISH", "fontSize": 14.5, "color": "#ff2a2a", "align": "center", "baseline": "middle"}, "encoding": {"x": {"datum": 1952.0, "type": "quantitative"}, "y": {"datum": 145.8, "type": "quantitative", "scale": {"domain": [-291.2, 218.1], "nice": false, "zero": false}, "axis": null}}},
   {"data": {"values": [{}]}, "mark": {"type": "text", "text": "CMIP5-MMM", "fontSize": 14.5, "color": "#20b040", "align": "center", "baseline": "middle"}, "encoding": {"x": {"datum": 1953.6, "type": "quantitative"}, "y": {"datum": 109.7, "type": "quantitative", "scale": {"domain": [-291.2, 218.1], "nice": false, "zero": false}, "axis": null}}},
   {"data": {"values": [{}]}, "mark": {"type": "text", "text": "Offset by  -50 ZJ", "fontSize": 14.5, "color": "#ff2a2a", "align": "left", "baseline": "middle"}, "encoding": {"x": {"datum": 1962.4, "type": "quantitative"}, "y": {"datum": 145.8, "type": "quantitative", "scale": {"domain": [-291.2, 218.1], "nice": false, "zero": false}, "axis": null}}},
   {"data": {"values": [{}]}, "mark": {"type": "text", "text": "Offset by +50 ZJ", "fontSize": 14.5, "color": "#20b040", "align": "left", "baseline": "middle"}, "encoding": {"x": {"datum": 1962.4, "type": "quantitative"}, "y": {"datum": 109.7, "type": "quantitative", "scale": {"domain": [-291.2, 218.1], "nice": false, "zero": false}, "axis": null}}},
   {"data": {"values": [{}]}, "mark": {"type": "rule", "color": "#666", "strokeDash": [5, 3], "strokeWidth": 1.3},
    "encoding": {"y": {"datum": 0, "type": "quantitative", "scale": {"domain": [-0.1, 2.862], "nice": false, "zero": false}, "axis": {"orient": "right", "values": [-0.1,0,0.1,0.2,0.3,0.4,0.5,0.6,0.7,0.8,0.9], "format": ".1f", "tickSize": -5, "labelPadding": 9.4, "labelFontSize": 12.2, "labelExpr": "abs(round(datum.value*10))%2==1 ? replace(datum.label, '−', '-') : ''", "title": "Rate (Wm⁻²)", "titleFontSize": 12.5, "titleAngle": 90, "titlePadding": 0, "titleY": 194}}}},
   {"data": {"name": "bars"}, "transform": [{"filter": "datum.p=='a'"}], "mark": {"type": "bar", "size": 10},
    "encoding": {"x": {"field": "t", "type": "quantitative"}, "y": {"field": "r", "type": "quantitative", "scale": {"domain": [-0.1, 2.862], "nice": false, "zero": false}, "axis": null}, "y2": {"datum": 0}, "color": {"field": "s", "type": "nominal", "scale": {"domain": ["CMIP5","ISH","IAP","PW","LW"], "range": ["#13b613","#ff7482","#262626","#13b613","#ff7482"]}, "legend": null}}},
   {"data": {"name": "bars"}, "transform": [{"filter": "datum.p=='a'"}], "mark": {"type": "rule", "strokeWidth": 3},
    "encoding": {"x": {"field": "t", "type": "quantitative"}, "y": {"field": "lo", "type": "quantitative", "scale": {"domain": [-0.1, 2.862], "nice": false, "zero": false}, "axis": null}, "y2": {"field": "hi"}, "color": {"field": "s", "type": "nominal", "scale": {"domain": ["CMIP5","ISH","IAP","PW","LW"], "range": ["#0a8a3a","#ff2d55","#000000","#0a8a3a","#ff2d55"]}, "legend": null}}}
  ]
 },
 {
  "width": 450, "height": 234,
  "title": {"text": "(d) OHC 0-300m", "dx": 11, "offset": 0.3},
  "resolve": {"scale": {"y": "independent", "color": "independent"}},
  "layer": [
   {"data": {"name": "bands"}, "transform": [{"filter": "datum.p=='R'"}], "mark": "rect",
    "encoding": {"x": {"field": "x1", "type": "quantitative", "scale": {"domain": [1956.9, 2020.24], "nice": false, "zero": false}, "axis": {"values": [1960,1970,1980,1990,2000,2010,2020], "format": "d", "labels": false, "tickSize": -5, "title": null}}, "x2": {"field": "x2"}, "color": {"field": "k", "type": "nominal", "scale": {"domain": ["k0","k1","k2","k3","k4"], "range": ["#808080","#bebebe","#cccccc","#d9d9d9","#e6e6e6"]}, "legend": null}}},
   {"data": {"name": "iap"}, "transform": [{"filter": "datum.p=='d'"}], "mark": {"type": "line", "color": "#111", "strokeWidth": 1.8, "point": {"filled": true, "size": 24, "color": "#111"}},
    "encoding": {"x": {"field": "t", "type": "quantitative"}, "y": {"field": "v", "type": "quantitative", "scale": {"domain": [-101.6, 90.2], "nice": false, "zero": false}, "axis": {"orient": "left", "values": [-80,-60,-40,-20,0,20,40,60,80], "labelExpr": "replace(datum.label, '−', '-')", "tickSize": 3, "labelPadding": 1, "labelFontSize": 16.5, "title": "ZJ", "titleFontSize": 18.3, "titleX": -32.5, "titleBaseline": "middle"}}}},
   {"data": {"name": "lw"}, "transform": [{"filter": "datum.p=='d'"}], "mark": {"type": "area", "color": "#ff6666", "opacity": 0.5},
    "encoding": {"x": {"field": "t", "type": "quantitative"}, "y": {"field": "hi", "type": "quantitative", "scale": {"domain": [-101.6, 90.2], "nice": false, "zero": false}, "axis": null}, "y2": {"field": "lo"}}},
   {"data": {"name": "pw"}, "transform": [{"filter": "datum.p=='d'"}], "mark": {"type": "line", "color": "#15993f", "strokeWidth": 3, "strokeDash": [9, 4]},
    "encoding": {"x": {"field": "t", "type": "quantitative"}, "y": {"field": "v", "type": "quantitative", "scale": {"domain": [-101.6, 90.2], "nice": false, "zero": false}, "axis": null}}},
   {"data": {"name": "lw"}, "transform": [{"filter": "datum.p=='d'"}], "mark": {"type": "line", "color": "#ff2020", "strokeWidth": 3, "strokeDash": [7, 4]},
    "encoding": {"x": {"field": "t", "type": "quantitative"}, "y": {"field": "v", "type": "quantitative", "scale": {"domain": [-101.6, 90.2], "nice": false, "zero": false}, "axis": null}}},
   {"data": {"name": "pw"}, "transform": [{"filter": "datum.p=='d'"}], "mark": {"type": "point", "shape": "cross", "filled": true, "size": 70, "color": "#72b92e", "opacity": 1},
    "encoding": {"x": {"field": "t", "type": "quantitative"}, "y": {"field": "v", "type": "quantitative", "scale": {"domain": [-101.6, 90.2], "nice": false, "zero": false}, "axis": null}}},
   {"data": {"values": [{}]}, "mark": {"type": "rule", "color": "#111", "strokeWidth": 2}, "encoding": {"x": {"datum": 1958.2, "type": "quantitative"}, "x2": {"datum": 1962.0}, "y": {"datum": 76.5, "type": "quantitative", "scale": {"domain": [-101.6, 90.2], "nice": false, "zero": false}, "axis": null}}},
   {"data": {"values": [{}]}, "mark": {"type": "point", "filled": true, "size": 30, "color": "#111", "opacity": 1}, "encoding": {"x": {"datum": 1960.1, "type": "quantitative"}, "y": {"datum": 76.5, "type": "quantitative", "scale": {"domain": [-101.6, 90.2], "nice": false, "zero": false}, "axis": null}}},
   {"data": {"values": [{}]}, "mark": {"type": "rule", "color": "#15993f", "strokeWidth": 3, "strokeDash": [12, 3.5]}, "encoding": {"x": {"datum": 1958.2, "type": "quantitative"}, "x2": {"datum": 1962.0}, "y": {"datum": 63, "type": "quantitative", "scale": {"domain": [-101.6, 90.2], "nice": false, "zero": false}, "axis": null}}},
   {"data": {"values": [{}]}, "mark": {"type": "rule", "color": "#ff2020", "strokeWidth": 3, "strokeDash": [8, 3]}, "encoding": {"x": {"datum": 1958.2, "type": "quantitative"}, "x2": {"datum": 1962.0}, "y": {"datum": 50, "type": "quantitative", "scale": {"domain": [-101.6, 90.2], "nice": false, "zero": false}, "axis": null}}},
   {"data": {"values": [{}]}, "mark": {"type": "text", "text": "IAP", "fontSize": 13.8, "color": "#222", "align": "left", "baseline": "middle"}, "encoding": {"x": {"datum": 1963.1, "type": "quantitative"}, "y": {"datum": 76.5, "type": "quantitative", "scale": {"domain": [-101.6, 90.2], "nice": false, "zero": false}, "axis": null}}},
   {"data": {"values": [{}]}, "mark": {"type": "text", "text": "Piecewise", "fontSize": 13.8, "color": "#15993f", "align": "left", "baseline": "middle"}, "encoding": {"x": {"datum": 1963.1, "type": "quantitative"}, "y": {"datum": 63, "type": "quantitative", "scale": {"domain": [-101.6, 90.2], "nice": false, "zero": false}, "axis": null}}},
   {"data": {"values": [{}]}, "mark": {"type": "text", "text": "LOWESS", "fontSize": 13.8, "color": "#ff2222", "align": "left", "baseline": "middle"}, "encoding": {"x": {"datum": 1963.1, "type": "quantitative"}, "y": {"datum": 50, "type": "quantitative", "scale": {"domain": [-101.6, 90.2], "nice": false, "zero": false}, "axis": null}}},
   {"data": {"values": [{}]}, "mark": {"type": "rule", "color": "#666", "strokeDash": [5, 3], "strokeWidth": 1.3},
    "encoding": {"y": {"datum": 0, "type": "quantitative", "scale": {"domain": [-0.04, 1.218], "nice": false, "zero": false}, "axis": {"orient": "right", "values": [-0.04,0,0.04,0.08,0.12,0.16,0.2,0.24,0.28], "format": ".2f", "tickSize": -5, "labelPadding": 7.5, "labelFontSize": 12.6, "labelExpr": "abs(round(datum.value*25))%2==1 ? replace(datum.label, '−', '-') : ''", "title": "Rate (Wm⁻²)", "titleFontSize": 12.5, "titleAngle": 90, "titlePadding": 2, "titleY": 200}}}},
   {"data": {"name": "bars"}, "transform": [{"filter": "datum.p=='d'"}], "mark": {"type": "bar", "size": 19},
    "encoding": {"x": {"field": "t", "type": "quantitative"}, "y": {"field": "r", "type": "quantitative", "scale": {"domain": [-0.04, 1.218], "nice": false, "zero": false}, "axis": null}, "y2": {"datum": 0}, "color": {"field": "s", "type": "nominal", "scale": {"domain": ["CMIP5","ISH","IAP","PW","LW"], "range": ["#13b613","#ff7482","#262626","#13b613","#ff7482"]}, "legend": null}}},
   {"data": {"name": "bars"}, "transform": [{"filter": "datum.p=='d'"}], "mark": {"type": "rule", "strokeWidth": 3},
    "encoding": {"x": {"field": "t", "type": "quantitative"}, "y": {"field": "lo", "type": "quantitative", "scale": {"domain": [-0.04, 1.218], "nice": false, "zero": false}, "axis": null}, "y2": {"field": "hi"}, "color": {"field": "s", "type": "nominal", "scale": {"domain": ["CMIP5","ISH","IAP","PW","LW"], "range": ["#0a8a3a","#ff2d55","#000000","#0a8a3a","#ff2d55"]}, "legend": null}}}
  ]
 },
 {
  "width": 442, "height": 234,
  "title": {"text": "(b) Piecewise (constrain)", "dx": 11.5, "offset": -27.7},
  "resolve": {"scale": {"y": "independent", "color": "independent"}},
  "layer": [
   {"data": {"name": "bands"}, "transform": [{"filter": "datum.p=='L'"}], "mark": "rect",
    "encoding": {"x": {"field": "x1", "type": "quantitative", "scale": {"domain": [1943.7, 2020.05], "nice": false, "zero": false}, "axis": {"values": [1950,1960,1970,1980,1990,2000,2010,2020], "format": "d", "labels": false, "tickSize": 5, "title": null}}, "x2": {"field": "x2"}, "color": {"field": "k", "type": "nominal", "scale": {"domain": ["k0","k1","k2","k3","k4"], "range": ["#808080","#bcbcbc","#cbcbcb","#d9d9d9","#e6e6e6"]}, "legend": null}}},
   {"data": {"values": [{}]}, "mark": {"type": "rect", "color": "#e8e8e8"},
    "encoding": {"x": {"datum": 1945.6, "type": "quantitative"}, "x2": {"datum": 1986.5}, "y": {"datum": 202.2, "type": "quantitative", "scale": {"domain": [-291.2, 218.1], "nice": false, "zero": false}, "axis": {"orient": "left", "values": [-250,-200,-150,-100,-50,0,50,100,150,200], "labelExpr": "replace(datum.label, '−', '-')", "tickSize": 0, "labelPadding": 3.5, "labelFontSize": 15.5, "title": "ZJ", "titleFontSize": 18.3, "titleX": -37, "titleBaseline": "middle"}}, "y2": {"datum": 83}}},
   {"data": {"name": "thin"}, "transform": [{"filter": "datum.p=='b'"}], "mark": {"type": "line", "strokeWidth": 1.5},
    "encoding": {"x": {"field": "t", "type": "quantitative"}, "y": {"field": "v", "type": "quantitative", "scale": {"domain": [-291.2, 218.1], "nice": false, "zero": false}, "axis": null}, "color": {"field": "s", "type": "nominal", "scale": {"domain": ["IAP","ISH","CMIP5"], "range": ["#111111","#ff5a00","#1fae1f"]}, "legend": null}}},
   {"data": {"name": "pw"}, "transform": [{"filter": "datum.p=='b'"}], "mark": {"type": "line", "strokeWidth": 3.5, "strokeDash": [10, 6]},
    "encoding": {"x": {"field": "t", "type": "quantitative"}, "y": {"field": "v", "type": "quantitative", "scale": {"domain": [-291.2, 218.1], "nice": false, "zero": false}, "axis": null}, "color": {"field": "s", "type": "nominal", "scale": {"domain": ["IAP","ISH","CMIP5"], "range": ["#111111","#ff2b2b","#5db534"]}, "legend": null}}},
   {"data": {"name": "pw"}, "transform": [{"filter": "datum.p=='b' && (datum.t > 1950 || datum.s=='CMIP5')"}], "mark": {"type": "point", "filled": true, "size": 75, "opacity": 1},
    "encoding": {"x": {"field": "t", "type": "quantitative"}, "y": {"field": "v", "type": "quantitative", "scale": {"domain": [-291.2, 218.1], "nice": false, "zero": false}, "axis": null}, "color": {"field": "s", "type": "nominal", "scale": {"domain": ["IAP","ISH","CMIP5"], "range": ["#111111","#ff2b2b","#5db534"]}, "legend": null}}},
   {"data": {"values": [{}]}, "mark": {"type": "text", "text": "IAP", "fontSize": 14.5, "color": "#231f20", "align": "center", "baseline": "middle"}, "encoding": {"x": {"datum": 1952.0, "type": "quantitative"}, "y": {"datum": 182, "type": "quantitative", "scale": {"domain": [-291.2, 218.1], "nice": false, "zero": false}, "axis": null}}},
   {"data": {"values": [{}]}, "mark": {"type": "text", "text": "ISH", "fontSize": 14.5, "color": "#ff2a2a", "align": "center", "baseline": "middle"}, "encoding": {"x": {"datum": 1952.0, "type": "quantitative"}, "y": {"datum": 145.8, "type": "quantitative", "scale": {"domain": [-291.2, 218.1], "nice": false, "zero": false}, "axis": null}}},
   {"data": {"values": [{}]}, "mark": {"type": "text", "text": "CMIP5-MMM", "fontSize": 14.5, "color": "#20b040", "align": "center", "baseline": "middle"}, "encoding": {"x": {"datum": 1953.6, "type": "quantitative"}, "y": {"datum": 109.7, "type": "quantitative", "scale": {"domain": [-291.2, 218.1], "nice": false, "zero": false}, "axis": null}}},
   {"data": {"values": [{}]}, "mark": {"type": "text", "text": "Offset by  -50 ZJ", "fontSize": 14.5, "color": "#ff2a2a", "align": "left", "baseline": "middle"}, "encoding": {"x": {"datum": 1962.4, "type": "quantitative"}, "y": {"datum": 145.8, "type": "quantitative", "scale": {"domain": [-291.2, 218.1], "nice": false, "zero": false}, "axis": null}}},
   {"data": {"values": [{}]}, "mark": {"type": "text", "text": "Offset by +50 ZJ", "fontSize": 14.5, "color": "#20b040", "align": "left", "baseline": "middle"}, "encoding": {"x": {"datum": 1962.4, "type": "quantitative"}, "y": {"datum": 109.7, "type": "quantitative", "scale": {"domain": [-291.2, 218.1], "nice": false, "zero": false}, "axis": null}}},
   {"data": {"values": [{}]}, "mark": {"type": "rule", "color": "#666", "strokeDash": [5, 3], "strokeWidth": 1.3},
    "encoding": {"y": {"datum": 0, "type": "quantitative", "scale": {"domain": [-0.1, 2.862], "nice": false, "zero": false}, "axis": {"orient": "right", "values": [-0.1,0,0.1,0.2,0.3,0.4,0.5,0.6,0.7,0.8,0.9], "format": ".1f", "tickSize": -5, "labelPadding": 9.4, "labelFontSize": 12.2, "labelExpr": "abs(round(datum.value*10))%2==1 ? replace(datum.label, '−', '-') : ''", "title": "Rate (Wm⁻²)", "titleFontSize": 12.5, "titleAngle": 90, "titlePadding": 0, "titleY": 194}}}},
   {"data": {"name": "bars"}, "transform": [{"filter": "datum.p=='b'"}], "mark": {"type": "bar", "size": 10},
    "encoding": {"x": {"field": "t", "type": "quantitative"}, "y": {"field": "r", "type": "quantitative", "scale": {"domain": [-0.1, 2.862], "nice": false, "zero": false}, "axis": null}, "y2": {"datum": 0}, "color": {"field": "s", "type": "nominal", "scale": {"domain": ["CMIP5","ISH","IAP","PW","LW"], "range": ["#13b613","#ff7482","#262626","#13b613","#ff7482"]}, "legend": null}}},
   {"data": {"name": "bars"}, "transform": [{"filter": "datum.p=='b'"}], "mark": {"type": "rule", "strokeWidth": 3},
    "encoding": {"x": {"field": "t", "type": "quantitative"}, "y": {"field": "lo", "type": "quantitative", "scale": {"domain": [-0.1, 2.862], "nice": false, "zero": false}, "axis": null}, "y2": {"field": "hi"}, "color": {"field": "s", "type": "nominal", "scale": {"domain": ["CMIP5","ISH","IAP","PW","LW"], "range": ["#0a8a3a","#ff2d55","#000000","#0a8a3a","#ff2d55"]}, "legend": null}}}
  ]
 },
 {
  "width": 450, "height": 234,
  "title": {"text": "(e) OHC 300-700m", "dx": 11, "offset": 0.5},
  "resolve": {"scale": {"y": "independent", "color": "independent"}},
  "layer": [
   {"data": {"name": "bands"}, "transform": [{"filter": "datum.p=='R'"}], "mark": "rect",
    "encoding": {"x": {"field": "x1", "type": "quantitative", "scale": {"domain": [1956.9, 2020.24], "nice": false, "zero": false}, "axis": {"values": [1960,1970,1980,1990,2000,2010,2020], "format": "d", "labels": false, "tickSize": -5, "title": null}}, "x2": {"field": "x2"}, "color": {"field": "k", "type": "nominal", "scale": {"domain": ["k0","k1","k2","k3","k4"], "range": ["#808080","#bebebe","#cccccc","#d9d9d9","#e6e6e6"]}, "legend": null}}},
   {"data": {"name": "iap"}, "transform": [{"filter": "datum.p=='e'"}], "mark": {"type": "line", "color": "#111", "strokeWidth": 1.8, "point": {"filled": true, "size": 24, "color": "#111"}},
    "encoding": {"x": {"field": "t", "type": "quantitative"}, "y": {"field": "v", "type": "quantitative", "scale": {"domain": [-101.6, 90.2], "nice": false, "zero": false}, "axis": {"orient": "left", "values": [-80,-60,-40,-20,0,20,40,60,80], "labelExpr": "replace(datum.label, '−', '-')", "tickSize": 3, "labelPadding": 1, "labelFontSize": 16.5, "title": "ZJ", "titleFontSize": 18.3, "titleX": -32.5, "titleBaseline": "middle"}}}},
   {"data": {"name": "lw"}, "transform": [{"filter": "datum.p=='e'"}], "mark": {"type": "area", "color": "#ff6666", "opacity": 0.5},
    "encoding": {"x": {"field": "t", "type": "quantitative"}, "y": {"field": "hi", "type": "quantitative", "scale": {"domain": [-101.6, 90.2], "nice": false, "zero": false}, "axis": null}, "y2": {"field": "lo"}}},
   {"data": {"name": "pw"}, "transform": [{"filter": "datum.p=='e'"}], "mark": {"type": "line", "color": "#15993f", "strokeWidth": 3, "strokeDash": [9, 4]},
    "encoding": {"x": {"field": "t", "type": "quantitative"}, "y": {"field": "v", "type": "quantitative", "scale": {"domain": [-101.6, 90.2], "nice": false, "zero": false}, "axis": null}}},
   {"data": {"name": "lw"}, "transform": [{"filter": "datum.p=='e'"}], "mark": {"type": "line", "color": "#ff2020", "strokeWidth": 3, "strokeDash": [7, 4]},
    "encoding": {"x": {"field": "t", "type": "quantitative"}, "y": {"field": "v", "type": "quantitative", "scale": {"domain": [-101.6, 90.2], "nice": false, "zero": false}, "axis": null}}},
   {"data": {"name": "pw"}, "transform": [{"filter": "datum.p=='e'"}], "mark": {"type": "point", "shape": "cross", "filled": true, "size": 70, "color": "#72b92e", "opacity": 1},
    "encoding": {"x": {"field": "t", "type": "quantitative"}, "y": {"field": "v", "type": "quantitative", "scale": {"domain": [-101.6, 90.2], "nice": false, "zero": false}, "axis": null}}},
   {"data": {"values": [{}]}, "mark": {"type": "rule", "color": "#111", "strokeWidth": 2}, "encoding": {"x": {"datum": 1958.2, "type": "quantitative"}, "x2": {"datum": 1962.0}, "y": {"datum": 76.5, "type": "quantitative", "scale": {"domain": [-101.6, 90.2], "nice": false, "zero": false}, "axis": null}}},
   {"data": {"values": [{}]}, "mark": {"type": "point", "filled": true, "size": 30, "color": "#111", "opacity": 1}, "encoding": {"x": {"datum": 1960.1, "type": "quantitative"}, "y": {"datum": 76.5, "type": "quantitative", "scale": {"domain": [-101.6, 90.2], "nice": false, "zero": false}, "axis": null}}},
   {"data": {"values": [{}]}, "mark": {"type": "rule", "color": "#15993f", "strokeWidth": 3, "strokeDash": [12, 3.5]}, "encoding": {"x": {"datum": 1958.2, "type": "quantitative"}, "x2": {"datum": 1962.0}, "y": {"datum": 63, "type": "quantitative", "scale": {"domain": [-101.6, 90.2], "nice": false, "zero": false}, "axis": null}}},
   {"data": {"values": [{}]}, "mark": {"type": "rule", "color": "#ff2020", "strokeWidth": 3, "strokeDash": [8, 3]}, "encoding": {"x": {"datum": 1958.2, "type": "quantitative"}, "x2": {"datum": 1962.0}, "y": {"datum": 50, "type": "quantitative", "scale": {"domain": [-101.6, 90.2], "nice": false, "zero": false}, "axis": null}}},
   {"data": {"values": [{}]}, "mark": {"type": "text", "text": "IAP", "fontSize": 13.8, "color": "#222", "align": "left", "baseline": "middle"}, "encoding": {"x": {"datum": 1963.1, "type": "quantitative"}, "y": {"datum": 76.5, "type": "quantitative", "scale": {"domain": [-101.6, 90.2], "nice": false, "zero": false}, "axis": null}}},
   {"data": {"values": [{}]}, "mark": {"type": "text", "text": "Piecewise", "fontSize": 13.8, "color": "#15993f", "align": "left", "baseline": "middle"}, "encoding": {"x": {"datum": 1963.1, "type": "quantitative"}, "y": {"datum": 63, "type": "quantitative", "scale": {"domain": [-101.6, 90.2], "nice": false, "zero": false}, "axis": null}}},
   {"data": {"values": [{}]}, "mark": {"type": "text", "text": "LOWESS", "fontSize": 13.8, "color": "#ff2222", "align": "left", "baseline": "middle"}, "encoding": {"x": {"datum": 1963.1, "type": "quantitative"}, "y": {"datum": 50, "type": "quantitative", "scale": {"domain": [-101.6, 90.2], "nice": false, "zero": false}, "axis": null}}},
   {"data": {"values": [{}]}, "mark": {"type": "rule", "color": "#666", "strokeDash": [5, 3], "strokeWidth": 1.3},
    "encoding": {"y": {"datum": 0, "type": "quantitative", "scale": {"domain": [-0.04, 1.218], "nice": false, "zero": false}, "axis": {"orient": "right", "values": [-0.04,0,0.04,0.08,0.12,0.16,0.2,0.24,0.28], "format": ".2f", "tickSize": -5, "labelPadding": 7.5, "labelFontSize": 12.6, "labelExpr": "abs(round(datum.value*25))%2==1 ? replace(datum.label, '−', '-') : ''", "title": "Rate (Wm⁻²)", "titleFontSize": 12.5, "titleAngle": 90, "titlePadding": 2, "titleY": 200}}}},
   {"data": {"name": "bars"}, "transform": [{"filter": "datum.p=='e'"}], "mark": {"type": "bar", "size": 19},
    "encoding": {"x": {"field": "t", "type": "quantitative"}, "y": {"field": "r", "type": "quantitative", "scale": {"domain": [-0.04, 1.218], "nice": false, "zero": false}, "axis": null}, "y2": {"datum": 0}, "color": {"field": "s", "type": "nominal", "scale": {"domain": ["CMIP5","ISH","IAP","PW","LW"], "range": ["#13b613","#ff7482","#262626","#13b613","#ff7482"]}, "legend": null}}},
   {"data": {"name": "bars"}, "transform": [{"filter": "datum.p=='e'"}], "mark": {"type": "rule", "strokeWidth": 3},
    "encoding": {"x": {"field": "t", "type": "quantitative"}, "y": {"field": "lo", "type": "quantitative", "scale": {"domain": [-0.04, 1.218], "nice": false, "zero": false}, "axis": null}, "y2": {"field": "hi"}, "color": {"field": "s", "type": "nominal", "scale": {"domain": ["CMIP5","ISH","IAP","PW","LW"], "range": ["#0a8a3a","#ff2d55","#000000","#0a8a3a","#ff2d55"]}, "legend": null}}}
  ]
 },
 {
  "width": 442, "height": 234,
  "title": {"text": "(c) LOWESS", "dx": 11.5, "offset": -16.8},
  "resolve": {"scale": {"y": "independent", "color": "independent"}},
  "layer": [
   {"data": {"name": "bands"}, "transform": [{"filter": "datum.p=='L'"}], "mark": "rect",
    "encoding": {"x": {"field": "x1", "type": "quantitative", "scale": {"domain": [1943.7, 2020.05], "nice": false, "zero": false}, "axis": {"values": [1950,1960,1970,1980,1990,2000,2010,2020], "format": "d", "tickSize": 5, "labelFontSize": 14.4, "labelPadding": 3, "title": null}}, "x2": {"field": "x2"}, "color": {"field": "k", "type": "nominal", "scale": {"domain": ["k0","k1","k2","k3","k4"], "range": ["#808080","#bcbcbc","#cbcbcb","#d9d9d9","#e6e6e6"]}, "legend": null}}},
   {"data": {"values": [{}]}, "mark": {"type": "rect", "color": "#e8e8e8"},
    "encoding": {"x": {"datum": 1945.6, "type": "quantitative"}, "x2": {"datum": 1986.5}, "y": {"datum": 202.2, "type": "quantitative", "scale": {"domain": [-291.2, 218.1], "nice": false, "zero": false}, "axis": {"orient": "left", "values": [-250,-200,-150,-100,-50,0,50,100,150,200], "labelExpr": "replace(datum.label, '−', '-')", "tickSize": 0, "labelPadding": 3.5, "labelFontSize": 15.5, "title": "ZJ", "titleFontSize": 18.3, "titleX": -37, "titleBaseline": "middle"}}, "y2": {"datum": 83}}},
   {"data": {"name": "thin"}, "transform": [{"filter": "datum.p=='a'"}], "mark": {"type": "line", "strokeWidth": 1.5},
    "encoding": {"x": {"field": "t", "type": "quantitative"}, "y": {"field": "v", "type": "quantitative", "scale": {"domain": [-291.2, 218.1], "nice": false, "zero": false}, "axis": null}, "color": {"field": "s", "type": "nominal", "scale": {"domain": ["IAP","ISH","CMIP5"], "range": ["#111111","#ff5a00","#1fae1f"]}, "legend": null}}},
   {"data": {"name": "lw"}, "transform": [{"filter": "datum.p=='c'"}], "mark": {"type": "area", "opacity": 0.6},
    "encoding": {"x": {"field": "t", "type": "quantitative"}, "y": {"field": "hi", "type": "quantitative", "scale": {"domain": [-291.2, 218.1], "nice": false, "zero": false}, "axis": null}, "y2": {"field": "lo"}, "color": {"field": "s", "type": "nominal", "scale": {"domain": ["IAP","ISH","CMIP5"], "range": ["#777777","#ff5555","#1fb51f"]}, "legend": null}}},
   {"data": {"name": "lw"}, "transform": [{"filter": "datum.p=='c'"}], "mark": {"type": "line", "strokeWidth": 3.5, "strokeDash": [10, 6]},
    "encoding": {"x": {"field": "t", "type": "quantitative"}, "y": {"field": "v", "type": "quantitative", "scale": {"domain": [-291.2, 218.1], "nice": false, "zero": false}, "axis": null}, "color": {"field": "s", "type": "nominal", "scale": {"domain": ["IAP","ISH","CMIP5"], "range": ["#2a2a2a","#ff2020","#8fdc7a"]}, "legend": null}}},
   {"data": {"values": [{}]}, "mark": {"type": "text", "text": "IAP", "fontSize": 14.5, "color": "#231f20", "align": "center", "baseline": "middle"}, "encoding": {"x": {"datum": 1952.0, "type": "quantitative"}, "y": {"datum": 182, "type": "quantitative", "scale": {"domain": [-291.2, 218.1], "nice": false, "zero": false}, "axis": null}}},
   {"data": {"values": [{}]}, "mark": {"type": "text", "text": "ISH", "fontSize": 14.5, "color": "#ff2a2a", "align": "center", "baseline": "middle"}, "encoding": {"x": {"datum": 1952.0, "type": "quantitative"}, "y": {"datum": 145.8, "type": "quantitative", "scale": {"domain": [-291.2, 218.1], "nice": false, "zero": false}, "axis": null}}},
   {"data": {"values": [{}]}, "mark": {"type": "text", "text": "CMIP5-MMM", "fontSize": 14.5, "color": "#20b040", "align": "center", "baseline": "middle"}, "encoding": {"x": {"datum": 1953.6, "type": "quantitative"}, "y": {"datum": 109.7, "type": "quantitative", "scale": {"domain": [-291.2, 218.1], "nice": false, "zero": false}, "axis": null}}},
   {"data": {"values": [{}]}, "mark": {"type": "text", "text": "Offset by  -50 ZJ", "fontSize": 14.5, "color": "#ff2a2a", "align": "left", "baseline": "middle"}, "encoding": {"x": {"datum": 1962.4, "type": "quantitative"}, "y": {"datum": 145.8, "type": "quantitative", "scale": {"domain": [-291.2, 218.1], "nice": false, "zero": false}, "axis": null}}},
   {"data": {"values": [{}]}, "mark": {"type": "text", "text": "Offset by +50 ZJ", "fontSize": 14.5, "color": "#20b040", "align": "left", "baseline": "middle"}, "encoding": {"x": {"datum": 1962.4, "type": "quantitative"}, "y": {"datum": 109.7, "type": "quantitative", "scale": {"domain": [-291.2, 218.1], "nice": false, "zero": false}, "axis": null}}},
   {"data": {"values": [{}]}, "mark": {"type": "rule", "color": "#666", "strokeDash": [5, 3], "strokeWidth": 1.3},
    "encoding": {"y": {"datum": 0, "type": "quantitative", "scale": {"domain": [-0.1, 2.862], "nice": false, "zero": false}, "axis": {"orient": "right", "values": [-0.1,0,0.1,0.2,0.3,0.4,0.5,0.6,0.7,0.8,0.9], "format": ".1f", "tickSize": -5, "labelPadding": 9.4, "labelFontSize": 12.2, "labelExpr": "abs(round(datum.value*10))%2==1 ? replace(datum.label, '−', '-') : ''", "title": "Rate (Wm⁻²)", "titleFontSize": 12.5, "titleAngle": 90, "titlePadding": 0, "titleY": 194}}}},
   {"data": {"name": "bars"}, "transform": [{"filter": "datum.p=='c'"}], "mark": {"type": "bar", "size": 10},
    "encoding": {"x": {"field": "t", "type": "quantitative"}, "y": {"field": "r", "type": "quantitative", "scale": {"domain": [-0.1, 2.862], "nice": false, "zero": false}, "axis": null}, "y2": {"datum": 0}, "color": {"field": "s", "type": "nominal", "scale": {"domain": ["CMIP5","ISH","IAP","PW","LW"], "range": ["#13b613","#ff7482","#262626","#13b613","#ff7482"]}, "legend": null}}},
   {"data": {"name": "bars"}, "transform": [{"filter": "datum.p=='c'"}], "mark": {"type": "rule", "strokeWidth": 3},
    "encoding": {"x": {"field": "t", "type": "quantitative"}, "y": {"field": "lo", "type": "quantitative", "scale": {"domain": [-0.1, 2.862], "nice": false, "zero": false}, "axis": null}, "y2": {"field": "hi"}, "color": {"field": "s", "type": "nominal", "scale": {"domain": ["CMIP5","ISH","IAP","PW","LW"], "range": ["#0a8a3a","#ff2d55","#000000","#0a8a3a","#ff2d55"]}, "legend": null}}}
  ]
 },
 {
  "width": 450, "height": 234,
  "title": {"text": "(f) OHC 700-2000m", "dx": 11, "offset": 2.5},
  "resolve": {"scale": {"y": "independent", "color": "independent"}},
  "layer": [
   {"data": {"name": "bands"}, "transform": [{"filter": "datum.p=='R'"}], "mark": "rect",
    "encoding": {"x": {"field": "x1", "type": "quantitative", "scale": {"domain": [1956.9, 2020.24], "nice": false, "zero": false}, "axis": {"values": [1960,1970,1980,1990,2000,2010,2020], "format": "d", "tickSize": -5, "labelFontSize": 16.8, "labelPadding": 9.5, "labelAlign": {"condition": {"test": "datum.value >= 2020", "value": "right"}, "value": "center"}, "title": null}}, "x2": {"field": "x2"}, "color": {"field": "k", "type": "nominal", "scale": {"domain": ["k0","k1","k2","k3","k4"], "range": ["#808080","#bebebe","#cccccc","#d9d9d9","#e6e6e6"]}, "legend": null}}},
   {"data": {"name": "iap"}, "transform": [{"filter": "datum.p=='f'"}], "mark": {"type": "line", "color": "#111", "strokeWidth": 1.8, "point": {"filled": true, "size": 24, "color": "#111"}},
    "encoding": {"x": {"field": "t", "type": "quantitative"}, "y": {"field": "v", "type": "quantitative", "scale": {"domain": [-101.6, 90.2], "nice": false, "zero": false}, "axis": {"orient": "left", "values": [-80,-60,-40,-20,0,20,40,60,80], "labelExpr": "replace(datum.label, '−', '-')", "tickSize": 3, "labelPadding": 1, "labelFontSize": 16.5, "title": "ZJ", "titleFontSize": 18.3, "titleX": -32.5, "titleBaseline": "middle"}}}},
   {"data": {"name": "lw"}, "transform": [{"filter": "datum.p=='f'"}], "mark": {"type": "area", "color": "#ff6666", "opacity": 0.5},
    "encoding": {"x": {"field": "t", "type": "quantitative"}, "y": {"field": "hi", "type": "quantitative", "scale": {"domain": [-101.6, 90.2], "nice": false, "zero": false}, "axis": null}, "y2": {"field": "lo"}}},
   {"data": {"name": "pw"}, "transform": [{"filter": "datum.p=='f'"}], "mark": {"type": "line", "color": "#15993f", "strokeWidth": 3, "strokeDash": [9, 4]},
    "encoding": {"x": {"field": "t", "type": "quantitative"}, "y": {"field": "v", "type": "quantitative", "scale": {"domain": [-101.6, 90.2], "nice": false, "zero": false}, "axis": null}}},
   {"data": {"name": "lw"}, "transform": [{"filter": "datum.p=='f'"}], "mark": {"type": "line", "color": "#ff2020", "strokeWidth": 3, "strokeDash": [7, 4]},
    "encoding": {"x": {"field": "t", "type": "quantitative"}, "y": {"field": "v", "type": "quantitative", "scale": {"domain": [-101.6, 90.2], "nice": false, "zero": false}, "axis": null}}},
   {"data": {"name": "pw"}, "transform": [{"filter": "datum.p=='f'"}], "mark": {"type": "point", "shape": "cross", "filled": true, "size": 70, "color": "#72b92e", "opacity": 1},
    "encoding": {"x": {"field": "t", "type": "quantitative"}, "y": {"field": "v", "type": "quantitative", "scale": {"domain": [-101.6, 90.2], "nice": false, "zero": false}, "axis": null}}},
   {"data": {"values": [{}]}, "mark": {"type": "rule", "color": "#111", "strokeWidth": 2}, "encoding": {"x": {"datum": 1958.2, "type": "quantitative"}, "x2": {"datum": 1962.0}, "y": {"datum": 76.5, "type": "quantitative", "scale": {"domain": [-101.6, 90.2], "nice": false, "zero": false}, "axis": null}}},
   {"data": {"values": [{}]}, "mark": {"type": "point", "filled": true, "size": 30, "color": "#111", "opacity": 1}, "encoding": {"x": {"datum": 1960.1, "type": "quantitative"}, "y": {"datum": 76.5, "type": "quantitative", "scale": {"domain": [-101.6, 90.2], "nice": false, "zero": false}, "axis": null}}},
   {"data": {"values": [{}]}, "mark": {"type": "rule", "color": "#15993f", "strokeWidth": 3, "strokeDash": [12, 3.5]}, "encoding": {"x": {"datum": 1958.2, "type": "quantitative"}, "x2": {"datum": 1962.0}, "y": {"datum": 63, "type": "quantitative", "scale": {"domain": [-101.6, 90.2], "nice": false, "zero": false}, "axis": null}}},
   {"data": {"values": [{}]}, "mark": {"type": "rule", "color": "#ff2020", "strokeWidth": 3, "strokeDash": [8, 3]}, "encoding": {"x": {"datum": 1958.2, "type": "quantitative"}, "x2": {"datum": 1962.0}, "y": {"datum": 50, "type": "quantitative", "scale": {"domain": [-101.6, 90.2], "nice": false, "zero": false}, "axis": null}}},
   {"data": {"values": [{}]}, "mark": {"type": "text", "text": "IAP", "fontSize": 13.8, "color": "#222", "align": "left", "baseline": "middle"}, "encoding": {"x": {"datum": 1963.1, "type": "quantitative"}, "y": {"datum": 76.5, "type": "quantitative", "scale": {"domain": [-101.6, 90.2], "nice": false, "zero": false}, "axis": null}}},
   {"data": {"values": [{}]}, "mark": {"type": "text", "text": "Piecewise", "fontSize": 13.8, "color": "#15993f", "align": "left", "baseline": "middle"}, "encoding": {"x": {"datum": 1963.1, "type": "quantitative"}, "y": {"datum": 63, "type": "quantitative", "scale": {"domain": [-101.6, 90.2], "nice": false, "zero": false}, "axis": null}}},
   {"data": {"values": [{}]}, "mark": {"type": "text", "text": "LOWESS", "fontSize": 13.8, "color": "#ff2222", "align": "left", "baseline": "middle"}, "encoding": {"x": {"datum": 1963.1, "type": "quantitative"}, "y": {"datum": 50, "type": "quantitative", "scale": {"domain": [-101.6, 90.2], "nice": false, "zero": false}, "axis": null}}},
   {"data": {"values": [{}]}, "mark": {"type": "rule", "color": "#666", "strokeDash": [5, 3], "strokeWidth": 1.3},
    "encoding": {"y": {"datum": 0, "type": "quantitative", "scale": {"domain": [-0.04, 1.218], "nice": false, "zero": false}, "axis": {"orient": "right", "values": [-0.04,0,0.04,0.08,0.12,0.16,0.2,0.24,0.28], "format": ".2f", "tickSize": -5, "labelPadding": 7.5, "labelFontSize": 12.6, "labelExpr": "abs(round(datum.value*25))%2==1 ? replace(datum.label, '−', '-') : ''", "title": "Rate (Wm⁻²)", "titleFontSize": 12.5, "titleAngle": 90, "titlePadding": 2, "titleY": 200}}}},
   {"data": {"name": "bars"}, "transform": [{"filter": "datum.p=='f'"}], "mark": {"type": "bar", "size": 19},
    "encoding": {"x": {"field": "t", "type": "quantitative"}, "y": {"field": "r", "type": "quantitative", "scale": {"domain": [-0.04, 1.218], "nice": false, "zero": false}, "axis": null}, "y2": {"datum": 0}, "color": {"field": "s", "type": "nominal", "scale": {"domain": ["CMIP5","ISH","IAP","PW","LW"], "range": ["#13b613","#ff7482","#262626","#13b613","#ff7482"]}, "legend": null}}},
   {"data": {"name": "bars"}, "transform": [{"filter": "datum.p=='f'"}], "mark": {"type": "rule", "strokeWidth": 3},
    "encoding": {"x": {"field": "t", "type": "quantitative"}, "y": {"field": "lo", "type": "quantitative", "scale": {"domain": [-0.04, 1.218], "nice": false, "zero": false}, "axis": null}, "y2": {"field": "hi"}, "color": {"field": "s", "type": "nominal", "scale": {"domain": ["CMIP5","ISH","IAP","PW","LW"], "range": ["#0a8a3a","#ff2d55","#000000","#0a8a3a","#ff2d55"]}, "legend": null}}}
  ]
 }
]
}
